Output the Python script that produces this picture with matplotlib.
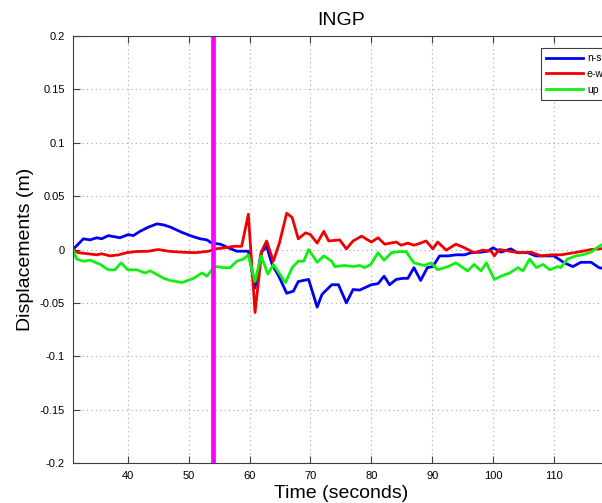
import numpy as np
import matplotlib.pyplot as plt

plt.rcParams['font.family'] = ['Liberation Sans', 'DejaVu Sans']

# n-s component
ns_t = [31, 32.7, 33.8, 34.9, 35.7, 36.8, 38.7, 40.1, 40.9, 42, 43.4, 44.8, 45.9, 47,
        48.9, 50.5, 51.9, 53, 53.8, 55.2, 56.5, 57.9, 59.8, 60.9, 61.9, 62.8, 63.7,
        64.8, 66.1, 67.2, 68, 69.7, 71.1, 71.9, 73.5, 74.6, 75.9, 77, 78.1, 80, 81.1,
        82.1, 83, 84.1, 85.2, 86, 87, 88.1, 89.2, 90.1, 91.2, 92.6, 93.9, 95.3, 96.4,
        98, 99.1, 100, 101.3, 102.9, 104, 105.7, 107, 108.4, 110, 111.7, 113.1, 114.4,
        116.1, 117.4, 119]
ns = [0, 0.010, 0.009, 0.011, 0.010, 0.013, 0.011, 0.014, 0.013, 0.017, 0.021, 0.024,
      0.023, 0.021, 0.016, 0.0125, 0.010, 0.009, 0.006, 0.005, 0.0016, -0.0016, -0.0016,
      -0.036, -0.003, 0.003, -0.014, -0.025, -0.041, -0.039, -0.030, -0.028, -0.054,
      -0.042, -0.033, -0.033, -0.050, -0.0375, -0.038, -0.033, -0.032, -0.025, -0.033,
      -0.028, -0.027, -0.027, -0.017, -0.029, -0.017, -0.016, -0.006, -0.006, -0.005,
      -0.005, -0.003, -0.0025, -0.0016, 0.0016, -0.0025, 0.0006, -0.003, -0.003, -0.006,
      -0.006, -0.006, -0.0125, -0.016, -0.012, -0.012, -0.017, -0.019]

# e-w component
ew_t = [31, 31.9, 33.5, 34.9, 35.7, 37.1, 38.5, 39.8, 41.2, 43.4, 45, 46.7, 48.9, 51.1,
        53.3, 54.4, 56, 57.4, 58.7, 59.8, 60.9, 62, 62.8, 63.9, 64.9, 66.1, 67, 68,
        69.2, 70, 71.1, 72.2, 73, 74.8, 75.9, 77, 78.4, 80, 81.1, 82.2, 84.1, 84.9, 86,
        87, 88.1, 89, 90.1, 90.9, 92.3, 93.9, 95.3, 96.9, 98.3, 99.7, 100.2, 101, 102.7,
        104.3, 106.2, 107.9, 109.5, 111.1, 113.3, 114.7, 116.1, 117.4, 119]
ew = [0, -0.003, -0.004, -0.005, -0.004, -0.006, -0.005, -0.003, -0.002, -0.0016, 0,
      -0.0016, -0.0025, -0.003, -0.0016, 0.0006, 0.0016, 0.003, 0.003, 0.033, -0.059,
      -0.0016, 0.008, -0.011, 0.006, 0.034, 0.030, 0.010, 0.0156, 0.014, 0.006, 0.017,
      0.008, 0.009, 0.0006, 0.008, 0.0125, 0.007, 0.011, 0.005, 0.007, 0.004, 0.006,
      0.004, 0.006, 0.008, 0.0006, 0.007, -0.0006, 0.005, 0.0016, -0.003, -0.0006,
      -0.0016, -0.006, 0, -0.0016, -0.003, -0.0025, -0.006, -0.005, -0.005, -0.003,
      -0.0016, 0, 0.0006, 0.001]

# up component
up_t = [31, 31.6, 32.7, 33.8, 35.5, 36.8, 37.9, 38.9, 40, 41.5, 42.8, 43.7, 45.9, 47,
        48.9, 50.8, 52.2, 53, 53.8, 54.6, 55.7, 56.8, 57.9, 59, 59.8, 60.9, 61.9, 63,
        63.9, 65.9, 67, 68, 68.9, 69.7, 71.1, 72.2, 73.5, 74, 75.6, 77, 78.1, 78.9,
        79.9, 81.1, 82.1, 83.3, 84.6, 85.7, 87, 88.7, 89.8, 90.9, 92.6, 93.9, 95.8,
        96.9, 98, 98.9, 100.2, 101.3, 102.7, 104.1, 104.9, 106, 107.1, 108.2, 109.3,
        110.6, 111.1, 112.2, 113.6, 114.7, 116.1, 117.4, 119]
up = [0, -0.009, -0.011, -0.010, -0.014, -0.019, -0.019, -0.0125, -0.019, -0.019,
      -0.022, -0.020, -0.027, -0.029, -0.031, -0.027, -0.022, -0.025, -0.019, -0.016,
      -0.017, -0.017, -0.011, -0.009, -0.005, -0.030, -0.006, -0.023, -0.014, -0.031,
      -0.017, -0.011, -0.011, 0, -0.012, -0.006, -0.011, -0.016, -0.015, -0.016, -0.015,
      -0.017, -0.014, -0.003, -0.010, -0.003, -0.002, -0.002, -0.0125, -0.015, -0.0125,
      -0.019, -0.016, -0.0125, -0.020, -0.014, -0.020, -0.0125, -0.028, -0.025, -0.022,
      -0.017, -0.020, -0.009, -0.017, -0.014, -0.019, -0.016, -0.017, -0.009, -0.006,
      -0.005, -0.0025, 0.003, 0.008]

event_time = 54.0
xticks = [40, 50, 60, 70, 80, 90, 100, 110]
yticks = [-0.2, -0.15, -0.1, -0.05, 0, 0.05, 0.1, 0.15, 0.2]
ytick_labels = ['-0.2', '-0.15', '-0.1', '-0.05', '0', '0.05', '0.1', '0.15', '0.2']

fig = plt.figure(figsize=(6.02, 5.03), dpi=100)
# axes runs past the right edge of the figure, as in the cropped original
ax = fig.add_axes([73/602, 40/503, 537/602, 427/503])

ax.plot(ns_t, ns, color='#0000f0', lw=2.0, label='n-s')
ax.plot(ew_t, ew, color='#f00000', lw=2.0, label='e-w')
ax.plot(up_t, up, color='#10f010', lw=2.0, label='up')
ax.axvline(event_time, color='#ff00ff', lw=3.4)

ax.set_xlim(31, 119.2)
ax.set_ylim(-0.2, 0.2)
ax.set_xticks(xticks)
ax.set_yticks(yticks)
ax.set_yticklabels(ytick_labels)
ax.grid(True, linestyle=(0, (1, 3)), color='#a8a8a8', lw=0.8)
ax.tick_params(direction='in', length=5, labelsize=8, top=True, right=False,
               color='#404040', pad=6)
for s in ax.spines.values():
    s.set_color('#404040')
    s.set_linewidth(0.8)

ax.set_title('INGP', fontsize=14, pad=8)
ax.set_xlabel('Time (seconds)', fontsize=14, labelpad=3)
ax.set_ylabel('Displacements (m)', fontsize=14, labelpad=4)

leg = ax.legend(loc='upper left', bbox_to_anchor=(0.862, 0.984), fontsize=7.5,
                handlelength=3.5, labelspacing=0.55, borderpad=0.5,
                handletextpad=0.4, fancybox=False, framealpha=1)
leg.get_frame().set_edgecolor('#404040')
leg.get_frame().set_linewidth(0.8)

fig.savefig('out.png', dpi=100)
